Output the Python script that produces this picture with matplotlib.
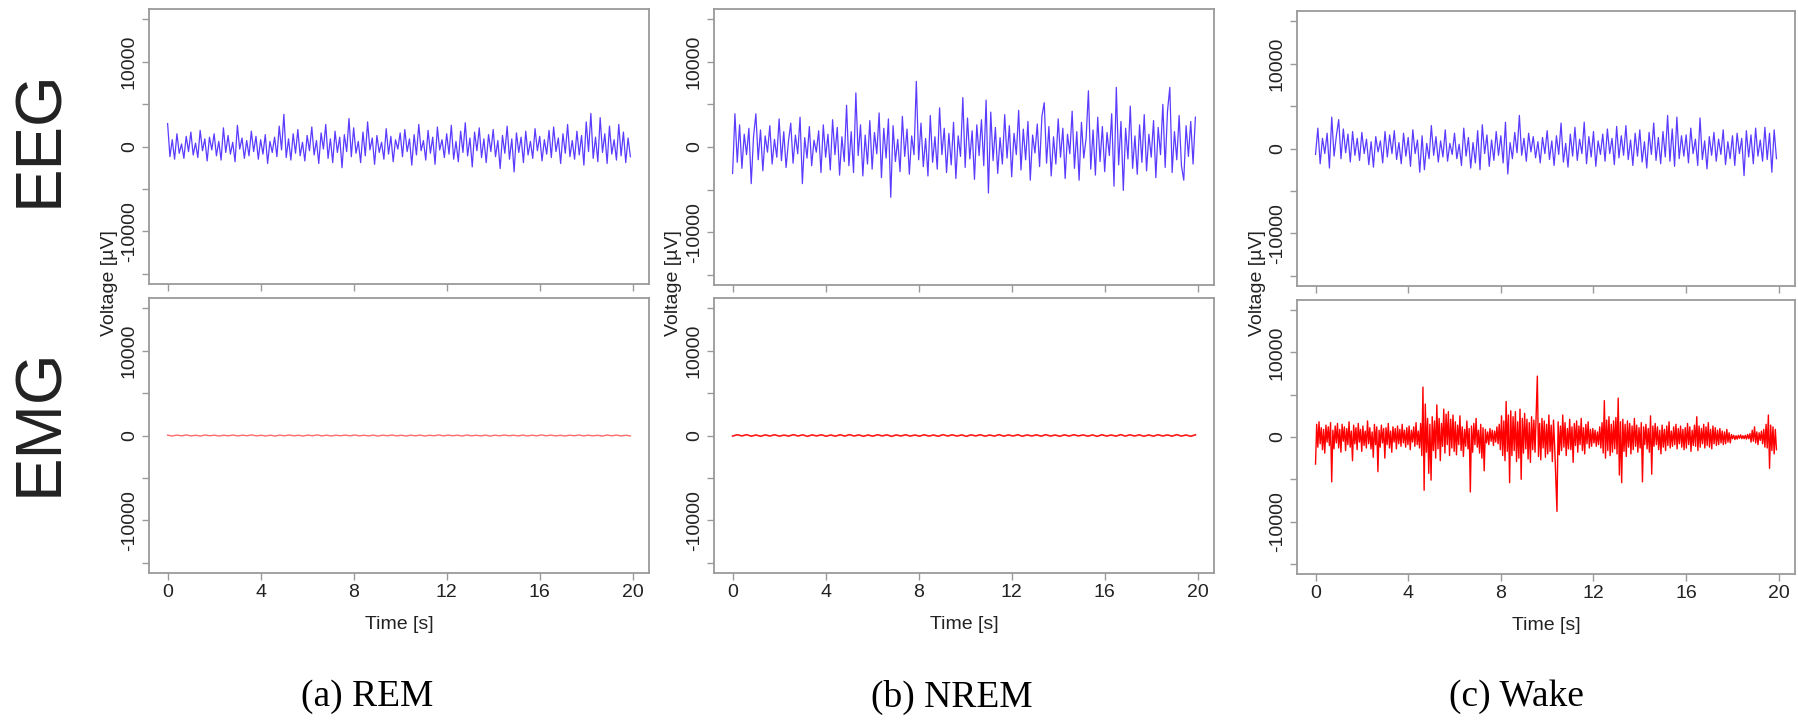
import matplotlib.pyplot as plt
import numpy as np

plt.rcParams["font.family"] = ["Liberation Sans", "DejaVu Sans"]

eeg_rem = [
    2700, -1200, 800, -1500, 1500, -800, 300, -1400, 1200, -600, 1700, -1000, 400, -1300, 1900, -500, 900, -1700, 1100, -400,
    1500, -1100, 600, -1600, 2200, -700, 1300, -900, 500, -1800, 2500, -300, 1000, -1400, 700, -1100, 1800, -600, 1200, -1500,
    800, -900, 1400, -2000, 600, -700, 1100, -1200, 2400, -400, 3800, -1300, 900, -1600, 1500, -800, 2000, -1100, 500, -1700,
    1300, -500, 2300, -1000, 700, -2000, 1600, -300, 2600, -1400, 900, -1900, 1800, -700, 1100, -2500, 1400, -600, 3300, -1200,
    2200, -800, 600, -1900, 1700, -1100, 2900, -400, 1000, -2100, 1300, -700, 500, -1500, 2100, -900, 1200, -1800, 800, -300,
    1600, -1200, 2000, -600, 900, -2200, 1400, -1000, 2600, -500, 700, -1600, 1900, -800, 1100, -2100, 2300, -400, 800, -1300,
    1500, -900, 2500, -1500, 600, -1800, 1800, -700, 2800, -1100, 1000, -2400, 1700, -500, 2200, -1300, 900, -1900, 1400, -600,
    2000, -1200, 700, -2600, 1300, -800, 2400, -1500, 900, -3000, 1600, -700, 1100, -1900, 1800, -1000, 600, -1400, 2100, -500,
    1200, -1700, 800, -900, 1900, -1300, 2300, -600, 1000, -2000, 1500, -800, 2600, -1200, 700, -1500, 1800, -1000, 1300, -2200,
    2900, -600, 3900, -1400, 1100, -1800, 3400, -700, 1500, -2000, 2400, -900, 800, -1600, 2600, -1100, 1700, -1900, 1000, -1200,
]
eeg_nrem = [
    -3100, 3900, -1800, 2600, -2500, 1500, -900, 2200, -4300, 1200, 3900, -1500, 2000, -2800, 1300, -600, 2500, -2000, 900, -1200,
    3300, -1600, 1800, -2400, 600, 2800, -1900, 1400, -800, 3500, -4300, 1100, -1300, 2400, -2200, 800, -600, 1900, -3000, 2600,
    -1200, 1500, -2700, 3200, -900, 2300, -3300, 1200, -1700, 4900, -2200, 1800, -3000, 6350, -1000, 2600, -3400, 1400, -2000, 3100,
    -2600, 1700, -800, 4000, -3600, 2200, -1300, 3300, -5900, 2500, -1700, 900, -2900, 3600, -1100, 2100, -3200, 1300, -900, 7700,
    -1500, 2800, -2300, 1000, -3400, 3700, -1800, 1200, -2600, 4600, -900, 2200, -3000, 1600, -2100, 2900, -3700, 1300, -1100, 5800,
    -2400, 3400, -1400, 1900, -3800, 2600, -1000, 3200, -2200, 5500, -5400, 4100, -1600, 2300, -3100, 1100, -2000, 3800, -1300, 2500,
    -3500, 1600, -900, 4300, -2700, 2100, -1500, 3000, -3900, 1400, -700, 2700, -2300, 3600, 5200, -1900, 2400, -3400, 1200, -2000,
    3300, -1200, 2200, -3700, 1500, -800, 4200, -2500, 1800, -3900, 2900, -1300, 1000, 6600, -2600, 2000, -3300, 3500, -1700, 2400,
    -2900, 1700, -1000, 3900, -4600, 7000, -2100, 3000, -5100, 2200, -1400, 4800, -2500, 1300, -3200, 2600, -1800, 3800, -2800, 1500,
    -1200, 3100, -3600, 2300, -900, 5000, -2400, 4200, 7000, -3000, 1800, -1500, 3700, -2200, -3900, 2500, -1100, 3000, -2000, 3500,
]
eeg_wake = [
    -700, 2400, -1800, 1200, -600, 1800, -2300, 3700, -900, 1500, 3400, -1200, 2300, -500, 1700, -1600, 2000, -800, 1200, -1400,
    1900, -600, 1100, -1900, 800, -2200, 1400, -400, 900, -1700, 2000, -1000, 1600, -600, 2100, -1300, 700, -1800, 1800, -900,
    1300, -2100, 2200, -600, 1000, -2800, 1500, -2500, 600, -1200, 2700, -800, 1400, -1600, 900, -1000, 2200, -1500, 600, -700,
    1800, -1200, 500, -2000, 2400, -900, 1300, -2300, 700, -1700, 2100, -2500, 2800, -600, 1600, -2100, 1000, -1400, 2000, -800,
    1500, -1700, 3100, -3000, 700, -1200, 1900, -500, 3900, -800, 1200, -1500, 1800, -400, 1400, -1100, 800, -1700, 1300, -600,
    2100, -1300, 900, -2000, 1500, -700, 3000, -1600, 600, -2200, 1700, -900, 2500, -1400, 1100, -600, 3100, -1800, 1400, -1000,
    2000, -2100, 900, -700, 1700, -1500, 2300, -600, 1200, -1900, 2600, -1100, 1500, -800, 2700, -1300, 1000, -2000, 1800, -900,
    2200, -1600, 800, -2300, 1900, -700, 3000, -1400, 1300, -1800, 2000, -1000, 3900, -1500, 2300, -2100, 3700, -1200, 1500, -900,
    1600, -1700, 2400, -600, 1100, -2000, 3600, -1300, 900, -2400, 1400, -800, 1900, -1500, 1100, -700, 2200, -1900, 800, -1200,
    1500, -2000, 1800, -600, 1200, -3200, 2100, -1000, 1600, -1800, 2400, -900, 1000, -1500, 2500, -1300, 1800, -2800, 2200, -1200,
]

emg_rem = [
    40, -60, 50, -40, 70, -50, 30, -70, 60, -30, 40, -60, 30, -40, 60, -50, 40, -30, 70, -50,
    30, -60, 40, -70, 50, -40, 60, -40, 30, -60, 50, -30, 70, -50, 40, -60, 40, -30, 50, -40,
    60, -40, 30, -50, 50, -70, 40, -30, 60, -50, 30, -60, 40, -40, 50, -60, 30, -40, 70, -50,
    50, -30, 40, -60, 60, -40, 30, -50, 50, -70, 40, -40, 60, -30, 30, -50, 50, -60, 40, -40,
    70, -40, 50, -50, 30, -60, 40, -30, 60, -50, 40, -40, 30, -70, 60, -40, 50, -50, 30, -50,
]
emg_nrem = [
    -70, 90, -50, 100, -80, 60, -90, 70, -60, 90, -80, 50, -70, 100, -60, 80, -100, 70, -50, 90,
    -90, 60, -80, 90, -70, 100, -60, 70, -90, 60, -80, 90, -50, 80, -100, 70, -60, 90, -70, 60,
    -80, 90, -70, 60, -90, 100, -60, 80, -70, 70, -100, 80, -50, 90, -80, 60, -70, 100, -80, 70,
    -60, 90, -90, 70, -60, 80, -80, 100, -70, 60, -90, 80, -70, 90, -50, 70, -80, 70, -100, 90,
    -70, 60, -80, 100, -70, 80, -60, 80, -90, 70, -80, 90, -60, 70, -80, 100, -70, 60, -90, 80,
]
emg_wake = [
    -3200, 1500, -1200, 1800, -800, 1100, -1500, 900, -1900, 1400, -600, 1200, -1000, 1700, -5300, 800, -1400, 1300, -700, 1600,
    -1300, 900, -1800, 1500, -500, 1200, -1600, 1000, -900, 1800, -1200, 700, -2800, 1400, -800, 1100, -1500, 1600, -600, 900,
    -1700, 1300, -1000, 700, -1300, 1900, -800, 1100, -1400, 600, -2400, 1500, -900, 1200, -4100, 800, -1200, 1400, -700, 1000,
    -2500, 1100, -900, 1600, -1300, 700, -1800, 1200, -600, 1000, -1400, 1300, -800, 900, -1100, 1500, -700, 800, -1200, 1100,
    -900, 1300, -1500, 800, -600, 1200, -1100, 1700, -900, 700, -1300, 1600, -2200, 5900, -6300, 3900, -1800, 2200, -4300, 1500,
    -5100, 2400, -1600, 1900, -2500, 3800, -1400, 2200, -2800, 1600, -1100, 3300, -1900, 2700, -900, 3000, -2200, 2100, -1300, 2600,
    -1700, 1800, -2100, 1400, -900, 2500, -1600, 1200, -2300, 900, -1100, 1900, -1400, 1000, -6500, 1300, -1800, 1600, -900, 2200,
    -1200, 800, -1900, 1500, -2500, 1100, -4000, 900, -700, 600, -900, 1000, -500, 800, -1000, 700, -600, 1200, -800, 1500,
    -1500, 2500, -2200, 1900, -2800, 4200, -1700, 2600, -5400, 3100, -2200, 2400, -1600, 3000, -2900, 1800, -2500, 3300, -5000, 2200,
    -1900, 2800, -1400, 2100, -2600, 1700, -3000, 2400, -1500, 2000, -1800, 2900, 7200, -2300, 1600, -2700, 2200, -1300, 1900, -2400,
    1500, -2000, 2600, -1700, 1400, -2900, 2000, -1100, -5100, -8800, 1800, -2100, 1300, -1600, 2600, -1200, 1700, -2200, 1000, -1400,
    2100, -1500, 1200, -3000, 1600, -1000, 1900, -1800, 1300, -900, 2200, -1600, 1100, -2000, 1500, -800, 1800, -1300, 900, -1100,
    1000, -700, 800, -1100, 600, -900, 1200, -1300, 1700, -1900, 4300, -2500, 2000, -1600, 2400, -2200, 1500, -1800, 1900, -1400,
    2300, -2000, 4600, -4500, 1800, -5400, 2100, -1700, 1500, -2300, 1900, -1200, 1600, -2000, 1300, -1500, 2200, -1100, 1400, -1800,
    1100, -1300, 1700, -5300, 1200, -900, 1500, -1400, 1000, -1800, 2500, -4400, 1300, -1100, 1600, -900, 1200, -1500, 800, -2000,
    1400, -1200, 900, -1600, 1300, -1000, 1800, -1300, 700, -1100, 1200, -900, 1500, -1400, 1000, -800, 1300, -1200, 900, -1500,
    1100, -1300, 1600, -900, 1200, -1700, 800, -1000, 1400, -1100, 2400, -1600, 1300, -1200, 1000, -800, 1500, -1300, 1200, -1000,
    1700, -1200, 900, -1400, 1300, -800, 1100, -1000, 800, -900, 1000, -700, 700, -900, 600, -800, 900, -600, 500, -700,
    300, -200, 200, -300, 150, -250, 200, -150, 250, -200, 150, -200, 200, -250, 300, -200, 400, -600, 800, -500,
    1200, -700, 600, -900, 500, -400, 700, -800, 900, -1200, 1500, -1300, 2600, -3700, 1400, -1600, 1200, -2000, 900, -1500,
]

t_end = 19.9
x_ticks = [0, 4, 8, 12, 16, 20]
y_ticks = [-15000, -10000, -5000, 0, 5000, 10000, 15000]
y_ticklabels = ["", "-10000", "", "0", "", "10000", ""]
captions = ["(a) REM", "(b) NREM", "(c) Wake"]

eeg_sets = [eeg_rem, eeg_nrem, eeg_wake]
emg_sets = [emg_rem, emg_nrem, emg_wake]
emg_colors = ["#ff6a6a", "#ff1a1a", "#ff0000"]
emg_widths = [1.0, 1.2, 1.0]

W, H = 1798, 720
# pixel boxes: left, right, top-panel (top, bottom), bottom-panel (top, bottom)
cols = [
    (149, 649, 9, 284, 298, 573),
    (714, 1214, 9, 285, 298, 573),
    (1297, 1795, 11, 286, 300, 574),
]
grey = "#9a9a9a"

fig = plt.figure(figsize=(W / 100, H / 100), dpi=100)


def box(l, r, t, b):
    return [l / W, 1 - b / H, (r - l) / W, (b - t) / H]


def style(ax, show_x):
    ax.set_xlim(-0.8, 20.7)
    ax.set_ylim(-16200, 16200)
    for s in ax.spines.values():
        s.set_color(grey)
        s.set_linewidth(1.3)
    ax.set_xticks(x_ticks)
    ax.set_yticks(y_ticks)
    ax.set_yticklabels(y_ticklabels, rotation=90, va="center")
    ax.tick_params(direction="out", length=5, width=1, color=grey, labelsize=14,
                   labelcolor="#222222", pad=3)
    if show_x:
        ax.set_xlabel("Time [s]", fontsize=14, color="#222222", labelpad=11)
    else:
        ax.tick_params(axis="x", labelbottom=False)


for i, (l, r, t1, b1, t2, b2) in enumerate(cols):
    ax1 = fig.add_axes(box(l, r, t1, b1))
    v = np.array(eeg_sets[i])
    ax1.plot(np.linspace(0, t_end, len(v)), v, color="#5a3cff", lw=0.9)
    style(ax1, False)

    ax2 = fig.add_axes(box(l, r, t2, b2))
    v = np.array(emg_sets[i])
    ax2.plot(np.linspace(0, t_end, len(v)), v, color=emg_colors[i], lw=emg_widths[i])
    style(ax2, True)

    fig.text((l - 40) / W, 1 - 283 / H, "Voltage [\u00b5V]", rotation=90,
             ha="center", va="center", fontsize=14, color="#222222")

for i, x in enumerate([367, 952, 1516]):
    fig.text(x / W, 1 - 697 / H, captions[i], ha="center", va="center",
             fontsize=27, family="Liberation Serif")

fig.text(40 / W, 1 - 138 / H, "EEG", rotation=90, ha="center", va="center",
         fontsize=47, color="#222222")
fig.text(40 / W, 1 - 422 / H, "EMG", rotation=90, ha="center", va="center",
         fontsize=47, color="#222222")

fig.savefig("out.png", dpi=100)
